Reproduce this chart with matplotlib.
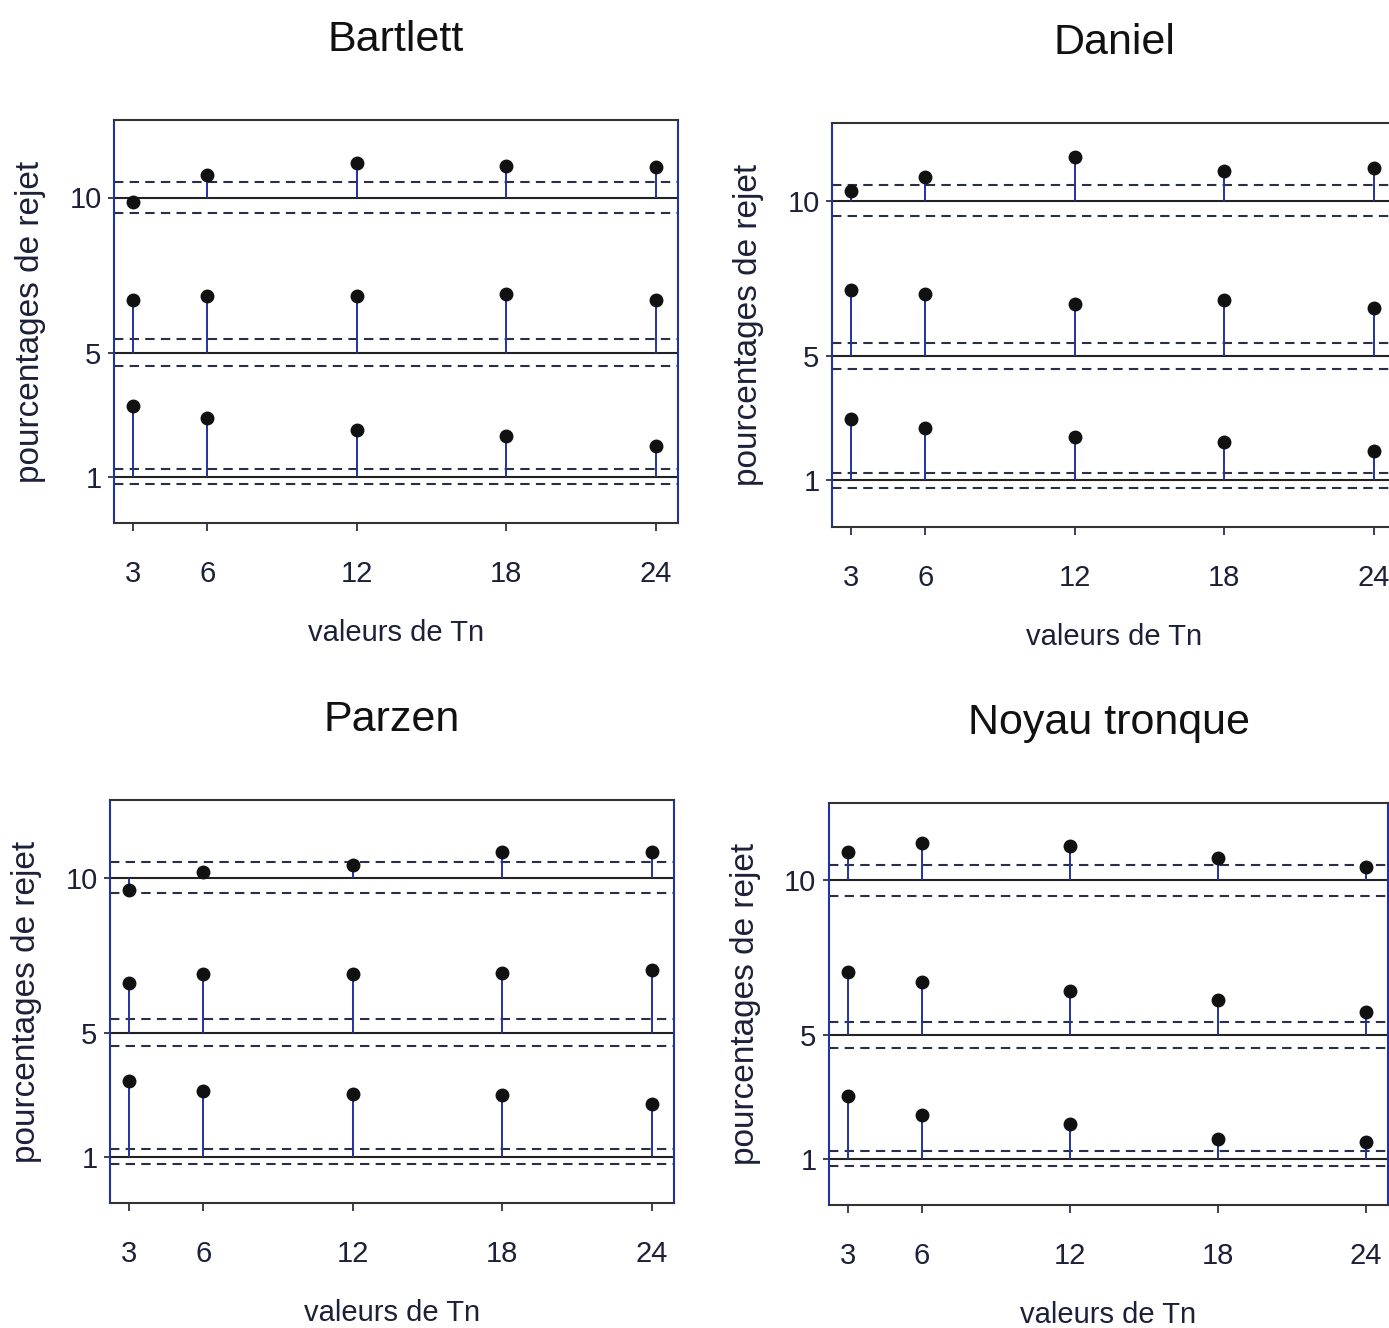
import matplotlib.pyplot as plt

# Tn values on the x axis and nominal levels (%)
tn = [3, 6, 12, 18, 24]
levels = [1, 5, 10]
band = [0.25, 0.43, 0.5]   # half-width of the dashed band around each level

# rejection percentages, one list per nominal level (1%, 5%, 10%)
bartlett_1 = [3.28, 2.90, 2.50, 2.30, 1.98]
bartlett_5 = [6.68, 6.81, 6.81, 6.90, 6.68]
bartlett_10 = [9.87, 10.71, 11.11, 11.02, 11.00]

daniel_1 = [2.99, 2.68, 2.39, 2.25, 1.95]
daniel_5 = [7.12, 7.00, 6.68, 6.79, 6.56]
daniel_10 = [10.31, 10.77, 11.39, 10.97, 11.06]

parzen_1 = [3.42, 3.12, 3.01, 3.00, 2.70]
parzen_5 = [6.59, 6.90, 6.90, 6.91, 7.01]
parzen_10 = [9.60, 10.19, 10.40, 10.82, 10.81]

tronque_1 = [3.02, 2.42, 2.13, 1.62, 1.53]
tronque_5 = [7.02, 6.72, 6.41, 6.14, 5.74]
tronque_10 = [10.92, 11.20, 11.11, 10.73, 10.44]

panels = [
    ('Bartlett', [bartlett_1, bartlett_5, bartlett_10], (114, 678, 120, 523)),
    ('Daniel', [daniel_1, daniel_5, daniel_10], (832, 1396, 123, 527)),
    ('Parzen', [parzen_1, parzen_5, parzen_10], (110, 674, 800, 1203)),
    ('Noyau tronque', [tronque_1, tronque_5, tronque_10], (829, 1388, 803, 1205)),
]

sans = ['Liberation Sans Narrow', 'Liberation Sans', 'DejaVu Sans']
regular = ['Liberation Sans', 'DejaVu Sans']
ink = '#1c2038'
blue = '#2233a0'

W, H = 1389, 1328
fig = plt.figure(figsize=(W / 100, H / 100), dpi=100)

for name, series, (l, r, t, b) in panels:
    ax = fig.add_axes([l / W, 1 - b / H, (r - l) / W, (b - t) / H])
    for lev, hw, vals in zip(levels, band, series):
        ax.axhline(lev, color='#222222', lw=1.5, zorder=2)
        ax.axhline(lev + hw, color='#2a2f48', lw=1.5, ls=(0, (4.5, 3)), zorder=2)
        ax.axhline(lev - hw, color='#2a2f48', lw=1.5, ls=(0, (4.5, 3)), zorder=2)
        ax.vlines(tn, lev, vals, color=blue, lw=1.4, zorder=3)
        ax.plot(tn, vals, 'o', color='#111111', ms=9, zorder=4)

    ax.set_xlim(2.25, 24.9)
    ax.set_ylim(-0.5, 12.5)
    ax.set_xticks(tn)
    ax.set_yticks(levels)
    ax.tick_params(axis='x', length=6, width=1.2, pad=21, labelsize=21,
                   colors=ink)
    ax.tick_params(axis='y', length=4, width=1.2, pad=5, labelsize=21,
                   colors=ink)
    for lab in ax.get_xticklabels() + ax.get_yticklabels():
        lab.set_family(sans)

    for side in ('left', 'right'):
        ax.spines[side].set_color(blue)
        ax.spines[side].set_linewidth(1.5)
    for side in ('top', 'bottom'):
        ax.spines[side].set_color('#333333')
        ax.spines[side].set_linewidth(1.5)

    ax.set_title(name, fontsize=31, family=sans, color='#111111', pad=50)
    ax.set_xlabel('valeurs de Tn', fontsize=21, family=sans, color=ink,
                  labelpad=22)
    ax.set_ylabel('pourcentages de rejet', fontsize=24, family=regular,
                  color=ink, labelpad=17)

fig.savefig('out.png', dpi=100)
